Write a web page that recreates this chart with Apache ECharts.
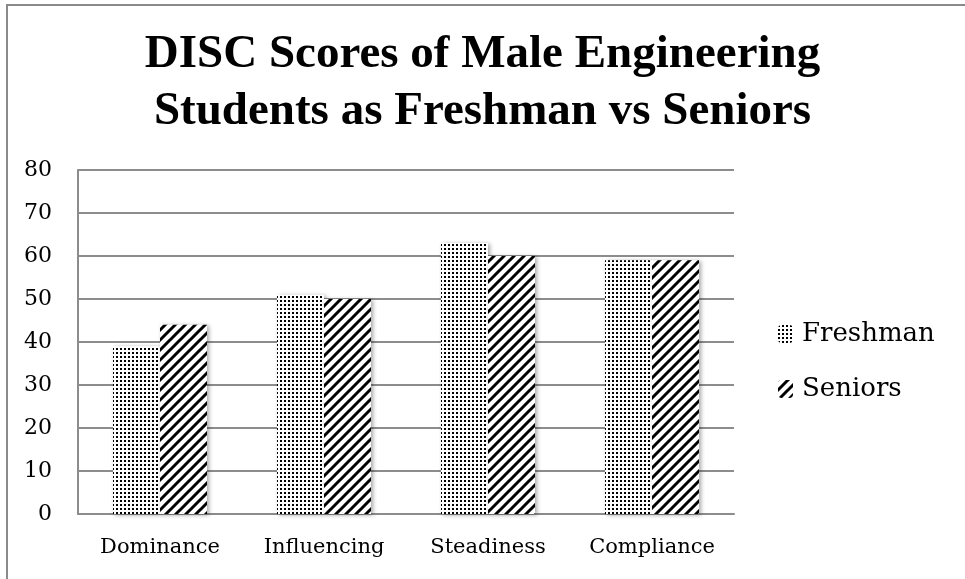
<!DOCTYPE html>
<html>
<head>
<meta charset="utf-8">
<script src="https://cdn.jsdelivr.net/npm/echarts@6/dist/echarts.min.js"></script>
<style>
  html, body { margin: 0; padding: 0; background: #fff; }
  #chart { width: 965px; height: 579px; }
</style>
</head>
<body>
<div id="chart"></div>
<script>
const categories = ["Dominance", "Influencing", "Steadiness", "Compliance"];
const freshman = [39, 51, 63, 59];
const seniors = [44, 50, 60, 59];
const seriesNames = ["Freshman", "Seniors"];

// dotted fill, like the Office "10%" pattern
function dotPattern() {
  const c = document.createElement("canvas");
  c.width = 4;
  c.height = 4;
  const ctx = c.getContext("2d");
  ctx.fillStyle = "#fff";
  ctx.fillRect(0, 0, 4, 4);
  ctx.fillStyle = "#000";
  ctx.fillRect(0, 0, 2, 2);
  return c;
}

// wide upward diagonal stripes
function stripePattern() {
  const s = 10;
  const c = document.createElement("canvas");
  c.width = s;
  c.height = s;
  const ctx = c.getContext("2d");
  ctx.fillStyle = "#fff";
  ctx.fillRect(0, 0, s, s);
  ctx.strokeStyle = "#000";
  ctx.lineWidth = 3;
  ctx.beginPath();
  ctx.moveTo(-s / 2, s / 2); ctx.lineTo(s / 2, -s / 2);
  ctx.moveTo(0, s); ctx.lineTo(s, 0);
  ctx.moveTo(s / 2, s * 1.5); ctx.lineTo(s * 1.5, s / 2);
  ctx.stroke();
  return c;
}

const chart = echarts.init(document.getElementById("chart"));
const serif = "DejaVu Serif";
const barStyle = {
  shadowBlur: 4,
  shadowColor: "rgba(0,0,0,0.35)",
  shadowOffsetX: 2,
  shadowOffsetY: 1
};

chart.setOption({
  animation: false,
  backgroundColor: "#fff",
  title: {
    text: "DISC Scores of Male Engineering\nStudents as Freshman vs Seniors",
    left: "center",
    top: 26,
    padding: 0,
    textStyle: {
      fontFamily: "Liberation Serif",
      fontWeight: "bold",
      fontSize: 47,
      lineHeight: 57,
      color: "#000"
    }
  },
  graphic: [{
    type: "rect",
    shape: { x: 7, y: 5, width: 970, height: 590 },
    style: { fill: "none", stroke: "#8a8a8a", lineWidth: 2 },
    silent: true
  }],
  legend: {
    orient: "vertical",
    left: 778,
    top: 321,
    padding: 0,
    itemWidth: 15,
    itemHeight: 18,
    itemGap: 29,
    data: seriesNames,
    textStyle: { fontFamily: serif, fontSize: 26, color: "#000", padding: [0, 0, 0, 4] }
  },
  grid: { left: 78, right: 231, top: 170, bottom: 65 },
  xAxis: {
    type: "category",
    data: categories,
    axisTick: { show: false },
    axisLine: { lineStyle: { color: "#8c8c8c", width: 2 } },
    axisLabel: { interval: 0, margin: 23, fontFamily: serif, fontSize: 21, color: "#000" }
  },
  yAxis: {
    type: "value",
    min: 0,
    max: 80,
    interval: 10,
    axisLine: { show: true, lineStyle: { color: "#8c8c8c", width: 2 } },
    axisTick: { show: false },
    splitLine: { lineStyle: { color: "#8c8c8c", width: 2 } },
    axisLabel: { margin: 26, fontFamily: serif, fontSize: 22, color: "#000" }
  },
  series: [
    {
      name: seriesNames[0],
      type: "bar",
      data: freshman,
      barWidth: 47,
      barGap: "0%",
      itemStyle: Object.assign({ color: { image: dotPattern(), repeat: "repeat" } }, barStyle)
    },
    {
      name: seriesNames[1],
      type: "bar",
      data: seniors,
      barWidth: 47,
      barGap: "0%",
      itemStyle: Object.assign({ color: { image: stripePattern(), repeat: "repeat" } }, barStyle)
    }
  ]
});
</script>
</body>
</html>
